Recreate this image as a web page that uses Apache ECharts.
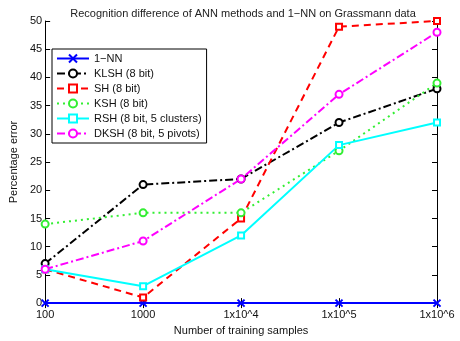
<!DOCTYPE html>
<html>
<head>
<meta charset="utf-8">
<script src="https://cdn.jsdelivr.net/npm/echarts@6/dist/echarts.min.js"></script>
<style>
  html, body { margin: 0; padding: 0; background: #fff; }
  #chart { width: 460px; height: 341px; }
</style>
</head>
<body>
<div id="chart"></div>
<script>
// 数据
var categories = ['100', '1000', '1x10^4', '1x10^5', '1x10^6'];
var nn = [0, 0, 0, 0, 0];
var klsh = [7, 21, 22, 32, 38];
var sh = [6, 1, 15, 49, 50];
var ksh = [14, 16, 16, 27, 39];
var rsh = [6, 3, 12, 28, 32];
var dksh = [6, 11, 22, 37, 48];

var crossPath = 'path://M0,0L10,10M10,0L0,10';
var font = 'Liberation Sans';

function mk(name, data, color, type, symbol, size) {
    return {
        name: name,
        type: 'line',
        data: data,
        symbol: symbol,
        symbolSize: size,
        showSymbol: true,
        animation: false,
        lineStyle: { color: color, width: 2, type: type },
        itemStyle: { color: color, borderColor: color, borderWidth: 2 },
        z: 3
    };
}

var myChart = echarts.init(document.getElementById('chart'));

var option = {
    backgroundColor: '#fff',
    title: {
        text: 'Recognition difference of ANN methods and 1\u2212NN on Grassmann data',
        left: 238,
        textAlign: 'center',
        top: 3,
        textStyle: { fontSize: 11, fontWeight: 'normal', color: '#222', fontFamily: font }
    },
    legend: {
        orient: 'vertical',
        left: 52,
        top: 49,
        padding: [4, 5, 4, 4],
        itemGap: 4,
        itemWidth: 32,
        itemHeight: 10,
        backgroundColor: '#fff',
        borderColor: '#000',
        borderWidth: 1,
        textStyle: { fontSize: 11, color: '#111', fontFamily: font },
        data: ['1\u2212NN', 'KLSH (8 bit)', 'SH (8 bit)', 'KSH (8 bit)', 'RSH (8 bit, 5 clusters)', 'DKSH (8 bit, 5 pivots)']
    },
    grid: { left: 38, right: 23, top: 21, bottom: 30, containLabel: false },
    xAxis: [{
        type: 'category',
        data: categories,
        boundaryGap: false,
        name: 'Number of training samples',
        nameLocation: 'middle',
        nameGap: 20,
        nameTextStyle: { fontSize: 11, color: '#111', fontFamily: font },
        axisLine: { lineStyle: { color: '#000', width: 1 } },
        axisTick: { inside: true, length: 5, lineStyle: { color: '#000' } },
        axisLabel: { fontSize: 11, color: '#111', fontFamily: font, margin: 6 },
        splitLine: { show: false }
    }, {
        type: 'category',
        data: categories,
        boundaryGap: false,
        position: 'top',
        axisLine: { lineStyle: { color: '#000', width: 1 } },
        axisTick: { inside: true, length: 5, lineStyle: { color: '#000' } },
        axisLabel: { show: false }
    }],
    yAxis: [{
        type: 'value',
        min: 0,
        max: 50,
        interval: 5,
        name: 'Percentage error',
        nameLocation: 'middle',
        nameGap: 21,
        nameTextStyle: { fontSize: 11, color: '#111', fontFamily: font },
        axisLine: { show: true, lineStyle: { color: '#000', width: 1 } },
        axisTick: { show: true, inside: true, length: 5, lineStyle: { color: '#000' } },
        axisLabel: { fontSize: 11, color: '#111', fontFamily: font, margin: 3 },
        splitLine: { show: false }
    }, {
        type: 'value',
        min: 0,
        max: 50,
        interval: 5,
        position: 'right',
        axisLine: { show: true, lineStyle: { color: '#000', width: 1 } },
        axisTick: { show: true, inside: true, length: 5, lineStyle: { color: '#000' } },
        axisLabel: { show: false },
        splitLine: { show: false }
    }],
    series: [
        mk('1\u2212NN', nn, '#0000ff', 'solid', crossPath, 7),
        mk('KLSH (8 bit)', klsh, '#000000', [8, 3, 2, 3], 'emptyCircle', 7),
        mk('SH (8 bit)', sh, '#ff0000', [7, 5], 'emptyRect', 6),
        mk('KSH (8 bit)', ksh, '#33ee33', [2, 4], 'emptyCircle', 7),
        mk('RSH (8 bit, 5 clusters)', rsh, '#00ffff', 'solid', 'emptyRect', 6),
        mk('DKSH (8 bit, 5 pivots)', dksh, '#ff00ff', [8, 3, 2, 3], 'emptyCircle', 7)
    ]
};

myChart.setOption(option);
</script>
</body>
</html>
